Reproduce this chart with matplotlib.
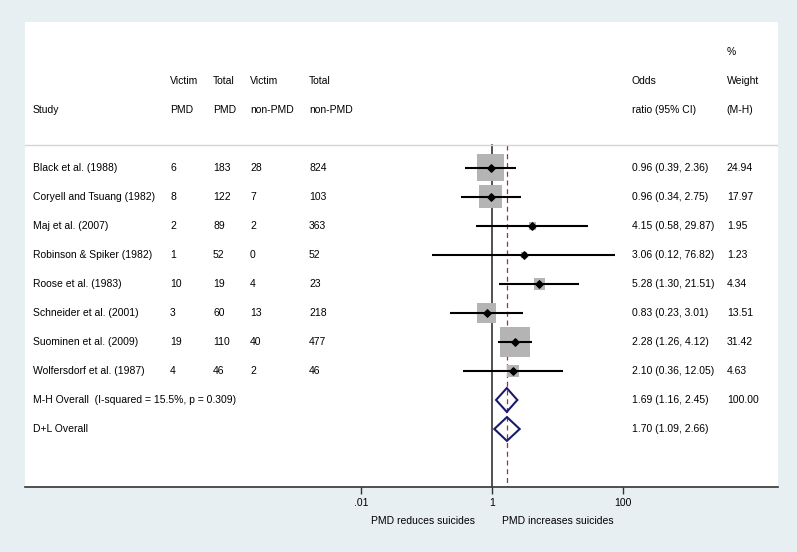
import numpy as np
import matplotlib
matplotlib.use("Agg")
import matplotlib.pyplot as plt
from matplotlib.patches import Polygon

plt.rcParams['font.family'] = ['Liberation Sans', 'DejaVu Sans']

studies = ["Black et al. (1988)", "Coryell and Tsuang (1982)", "Maj et al. (2007)",
           "Robinson & Spiker (1982)", "Roose et al. (1983)", "Schneider et al. (2001)",
           "Suominen et al. (2009)", "Wolfersdorf et al. (1987)"]
victim_pmd = [6, 8, 2, 1, 10, 3, 19, 4]
total_pmd = [183, 122, 89, 52, 19, 60, 110, 46]
victim_non = [28, 7, 2, 0, 4, 13, 40, 2]
total_non = [824, 103, 363, 52, 23, 218, 477, 46]
odds = [0.96, 0.96, 4.15, 3.06, 5.28, 0.83, 2.28, 2.10]
ci_lo = [0.39, 0.34, 0.58, 0.12, 1.30, 0.23, 1.26, 0.36]
ci_hi = [2.36, 2.75, 29.87, 76.82, 21.51, 3.01, 4.12, 12.05]
weight = [24.94, 17.97, 1.95, 1.23, 4.34, 13.51, 31.42, 4.63]

pooled_labels = ["M-H Overall  (I-squared = 15.5%, p = 0.309)", "D+L Overall"]
pooled_or = [1.69, 1.70]
pooled_lo = [1.16, 1.09]
pooled_hi = [2.45, 2.66]
pooled_w = ["100.00", ""]

xticks = [0.01, 1, 100]
xticklabels = [".01", "1", "100"]

fs = 7.5
fig = plt.figure(figsize=(7.97, 5.52), dpi=100)
fig.patch.set_facecolor("#e8eff2")
ax = fig.add_axes([25 / 797, 65 / 552, 753 / 797, 465 / 552])
ax.set_facecolor("white")
ax.set_xscale("log")
ax.set_xlim(10 ** -7.13, 10 ** 4.37)
ax.set_ylim(11.0, -5.03)
for s in ["top", "left", "right"]:
    ax.spines[s].set_visible(False)
ax.spines["bottom"].set_color("#333333")
ax.spines["bottom"].set_linewidth(1.2)
ax.set_yticks([])
ax.set_xticks(xticks)
ax.set_xticklabels(xticklabels, fontsize=fs)
ax.xaxis.set_minor_locator(matplotlib.ticker.NullLocator())
ax.tick_params(axis="x", length=5, width=1, color="#333333", pad=3)

tr = ax.get_yaxis_transform()  # x in axes fraction, y in data
cols = [0.0106, 0.1926, 0.2497, 0.2988, 0.3772, 0.806, 0.932]

# header
ax.text(cols[6], -4, "%", transform=tr, fontsize=fs, va="center")
for x, t in zip([1, 2, 3, 4, 5, 6], ["Victim", "Total", "Victim", "Total", "Odds", "Weight"]):
    ax.text(cols[x], -3, t, transform=tr, fontsize=fs, va="center")
for x, t in zip(range(7), ["Study", "PMD", "PMD", "non-PMD", "non-PMD", "ratio (95% CI)", "(M-H)"]):
    ax.text(cols[x], -2, t, transform=tr, fontsize=fs, va="center")
ax.axhline(-0.79, color="#d4d4d4", lw=1)

# reference lines
ax.plot([1, 1], [-0.79, 11.0], color="#333333", lw=1.2, zorder=1)
ax.plot([pooled_or[0]] * 2, [-0.79, 11.0], color="#a03040", lw=0.9, ls=(0, (4, 3)), zorder=1)

# studies
for i in range(len(studies)):
    row = [studies[i], victim_pmd[i], total_pmd[i], victim_non[i], total_non[i],
           "%.2f (%.2f, %.2f)" % (odds[i], ci_lo[i], ci_hi[i]), "%.2f" % weight[i]]
    for x, t in zip(cols, row):
        ax.text(x, i, str(t), transform=tr, fontsize=fs, va="center")
side_pt = 5.4 * np.sqrt(weight) * 0.72
ax.scatter(odds, range(len(studies)), s=side_pt ** 2, marker="s", color="#b4b4b4",
           edgecolors="none", zorder=2)
ax.hlines(range(len(studies)), ci_lo, ci_hi, color="black", lw=1.5, zorder=3)
ax.scatter(odds, range(len(studies)), s=14, marker="D", color="black", zorder=4)

# pooled
for j in range(2):
    y = len(studies) + j
    ax.text(cols[0], y, pooled_labels[j], transform=tr, fontsize=fs, va="center")
    ax.text(cols[5], y, "%.2f (%.2f, %.2f)" % (pooled_or[j], pooled_lo[j], pooled_hi[j]),
            transform=tr, fontsize=fs, va="center")
    ax.text(cols[6], y, pooled_w[j], transform=tr, fontsize=fs, va="center")
    h = 0.41
    ax.add_patch(Polygon([(pooled_lo[j], y), (pooled_or[j], y - h), (pooled_hi[j], y),
                          (pooled_or[j], y + h)], closed=True, facecolor="none",
                         edgecolor="#1a1a6e", lw=1.5, zorder=3))

fig.text(475 / 797, 1 - 521 / 552, "PMD reduces suicides", ha="right", va="center", fontsize=fs)
fig.text(502 / 797, 1 - 521 / 552, "PMD increases suicides", ha="left", va="center", fontsize=fs)

fig.savefig("out.png", dpi=100, facecolor=fig.get_facecolor())
